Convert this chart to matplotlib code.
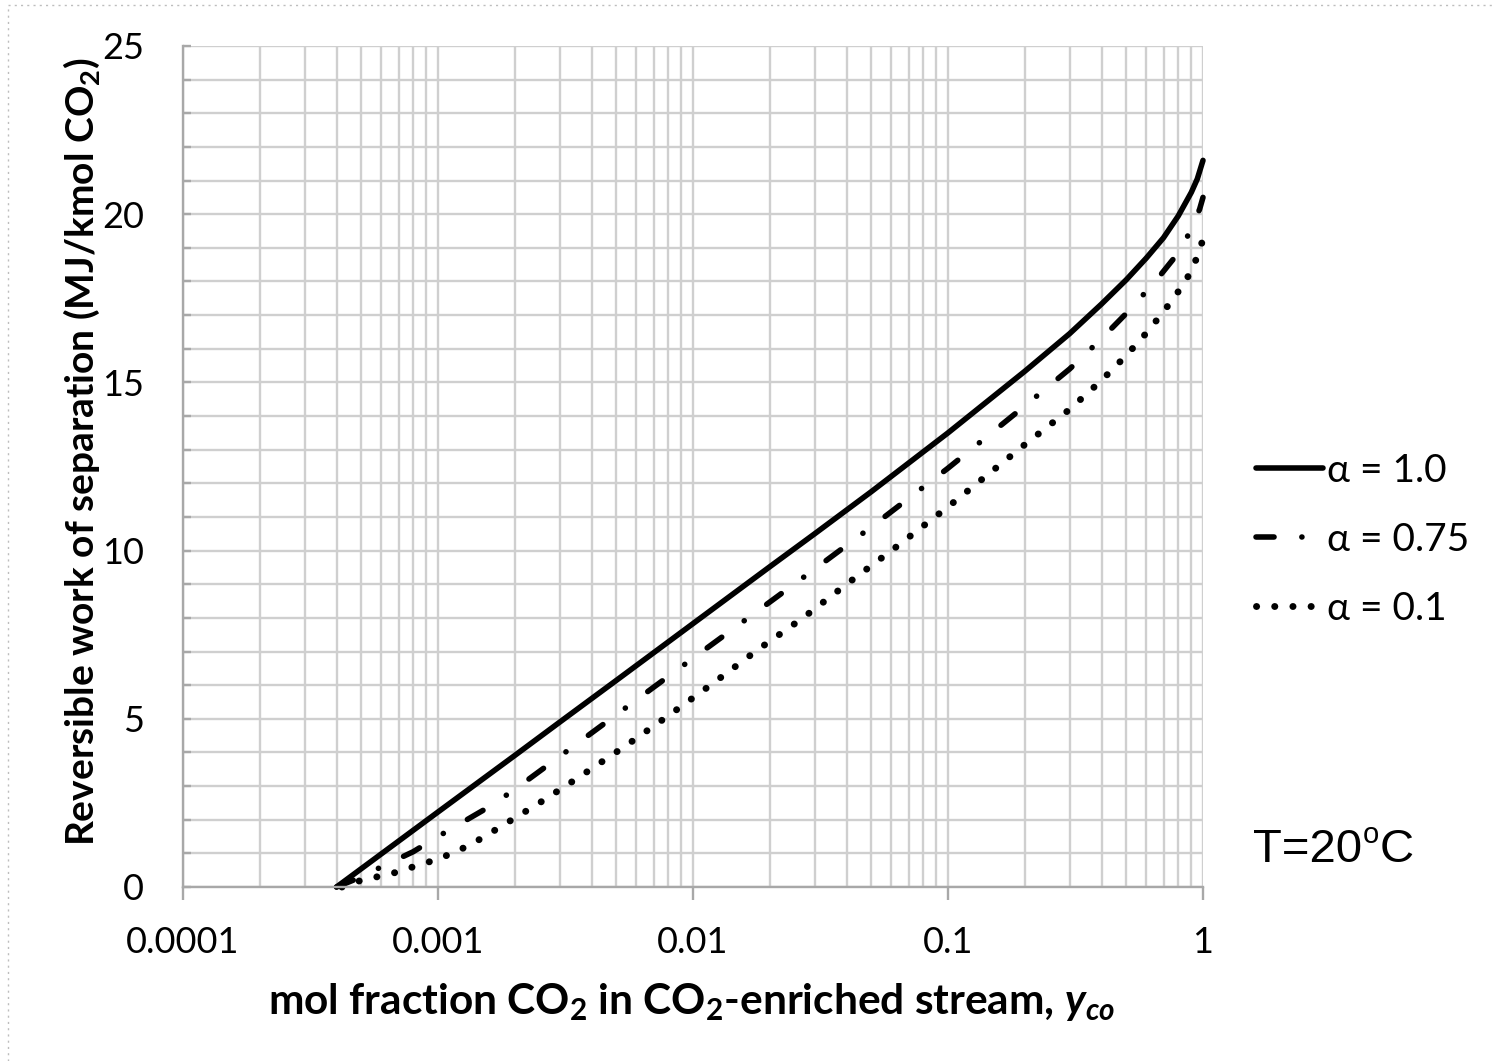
import matplotlib
matplotlib.use("Agg")
import matplotlib.pyplot as plt
from matplotlib.lines import Line2D
from matplotlib.ticker import FixedLocator, NullFormatter

# data
x_ticks = [0.0001, 0.001, 0.01, 0.1, 1]
x_labels = ["0.0001", "0.001", "0.01", "0.1", "1"]
y_ticks = [0, 5, 10, 15, 20, 25]

solid_x = [0.0004, 0.001, 0.002, 0.003, 0.005, 0.01, 0.02, 0.03, 0.05, 0.1,
           0.2, 0.3, 0.4, 0.5, 0.6, 0.7, 0.8, 0.9, 0.95, 1.0]
solid_y = [0, 2.23, 3.91, 4.90, 6.14, 7.83, 9.52, 10.5, 11.75, 13.5,
           15.33, 16.45, 17.33, 18.05, 18.7, 19.3, 19.95, 20.65, 21.05, 21.6]

dash_x = [0.0004, 0.0005, 0.0006, 0.0008, 0.001, 0.0016, 0.002, 0.003, 0.005,
          0.01, 0.02, 0.03, 0.05, 0.1, 0.2, 0.3, 0.4, 0.5, 0.65, 0.8, 0.9,
          0.97, 1.0]
dash_y = [0, 0.3, 0.6, 1.05, 1.5, 2.4, 2.9, 3.88, 5.12,
          6.8, 8.47, 9.45, 10.7, 12.45, 14.3, 15.4, 16.3, 17.05, 18.0, 18.85, 19.55,
          20.15, 20.5]

dot_x = [0.00042, 0.0005, 0.00066, 0.0008, 0.001, 0.0012, 0.0014, 0.0016, 0.002,
         0.0025, 0.0035, 0.0055, 0.008, 0.012, 0.018, 0.027, 0.04, 0.06, 0.1,
         0.2, 0.3, 0.4, 0.5, 0.6, 0.7, 0.8, 0.9, 0.95, 1.0]
dot_y = [0, 0.2, 0.4, 0.6, 0.83, 1.08, 1.34, 1.6, 2.05,
         2.5, 3.22, 4.22, 5.09, 6.06, 7.06, 8.0, 9.0, 10.0, 11.3,
         13.15, 14.2, 15.06, 15.8, 16.47, 17.1, 17.7, 18.3, 18.75, 19.25]

labels = ["α = 1.0", "α = 0.75", "α = 0.1"]

plt.rcParams['font.family'] = ['Lato', 'DejaVu Sans']
plt.rcParams['mathtext.fontset'] = 'custom'
plt.rcParams['mathtext.rm'] = 'Lato:bold'
plt.rcParams['mathtext.bf'] = 'Lato:bold'
plt.rcParams['mathtext.it'] = 'Lato:bold:italic'
plt.rcParams['mathtext.bfit'] = 'Lato:bold:italic'
plt.rcParams['lines.scale_dashes'] = False

W, H = 1492, 1061
fig = plt.figure(figsize=(W / 100, H / 100), dpi=100)
ax = fig.add_axes([183 / W, 1 - 887 / H, (1203 - 183) / W, (887 - 46) / H])

lw = 4.0
ax.plot(solid_x, solid_y, color='black', lw=lw, solid_capstyle='round',
        solid_joinstyle='round', clip_on=False, label=labels[0])
ax.plot(dash_x, dash_y, color='black', lw=lw, dashes=(13, 20, 0.1, 20),
        dash_capstyle='round', clip_on=False, label=labels[1])
ax.plot(dot_x, dot_y, color='black', lw=lw + 1.0, dashes=(0.1, 13),
        dash_capstyle='round', clip_on=False, label=labels[2])

ax.set_xscale('log')
ax.set_xlim(1e-4, 1)
ax.set_ylim(0, 25)
ax.xaxis.set_major_locator(FixedLocator(x_ticks))
ax.set_xticklabels(x_labels)
ax.xaxis.set_minor_locator(FixedLocator(
    [m * 10.0 ** e for e in range(-4, 0) for m in range(2, 10)]))
ax.xaxis.set_minor_formatter(NullFormatter())
ax.set_yticks(y_ticks)
ax.yaxis.set_minor_locator(FixedLocator(range(0, 26)))

grid_col = '#cfcfcf'
ax.grid(True, which='both', color=grid_col, lw=1.7)
ax.set_axisbelow(True)
for s in ['top', 'right']:
    ax.spines[s].set_visible(False)
for s in ['left', 'bottom']:
    ax.spines[s].set_color('#a8a8a8')
    ax.spines[s].set_linewidth(1.7)

ax.tick_params(axis='x', which='major', direction='out', length=9, width=1.7,
               color='#a8a8a8', labelsize=26, pad=19)
ax.tick_params(axis='x', which='minor', length=0)
ax.tick_params(axis='y', which='both', direction='in', length=6, width=1.7,
               color='#a8a8a8', labelsize=26, pad=28)

fig.text(82 / W, 1 - 452 / H,
         r"Reversible work of separation (MJ/kmol CO$_\mathregular{2}$)",
         rotation=90, ha='center', va='center', fontsize=28, fontweight='bold')
fig.text(692 / W, 1 - 1002 / H,
         r"mol fraction CO$_\mathregular{2}$ in CO$_\mathregular{2}$-enriched stream, "
         r"$\mathbfit{y}_{\mathbfit{co}}$",
         ha='center', va='center', fontsize=30.5, fontweight='bold')

# T=20°C note, with a small raised "o"
base_y = 1 - 862 / H
t1 = fig.text(1253 / W, base_y, "T=20", family='Liberation Sans',
              fontsize=34, ha='left', va='baseline')
sup = ax.annotate("o", xy=(1, base_y), xycoords=(t1, 'figure fraction'),
                  xytext=(0.5, 14), textcoords='offset points', va='baseline',
                  family='Liberation Sans', fontsize=21, annotation_clip=False)
ax.annotate("C", xy=(1, base_y), xycoords=(sup, 'figure fraction'),
            xytext=(0.3, 0), textcoords='offset points', va='baseline',
            family='Liberation Sans', fontsize=34, annotation_clip=False)

fig.legend(loc='center left', bbox_to_anchor=(1256 / W, 1 - 540 / H),
           frameon=False, fontsize=28, handlelength=1.72, handletextpad=0.1,
           labelspacing=0.85, borderpad=0, borderaxespad=0)

# dotted page border (top and left only)
fig.add_artist(Line2D([8 / W, 8 / W], [0, 1 - 5 / H], transform=fig.transFigure,
                      color='#bdbdbd', lw=1, linestyle=(0, (1.5, 3))))
fig.add_artist(Line2D([8 / W, 1], [1 - 5 / H, 1 - 5 / H], transform=fig.transFigure,
                      color='#bdbdbd', lw=1, linestyle=(0, (1.5, 3))))

fig.savefig("out.png", dpi=100)
